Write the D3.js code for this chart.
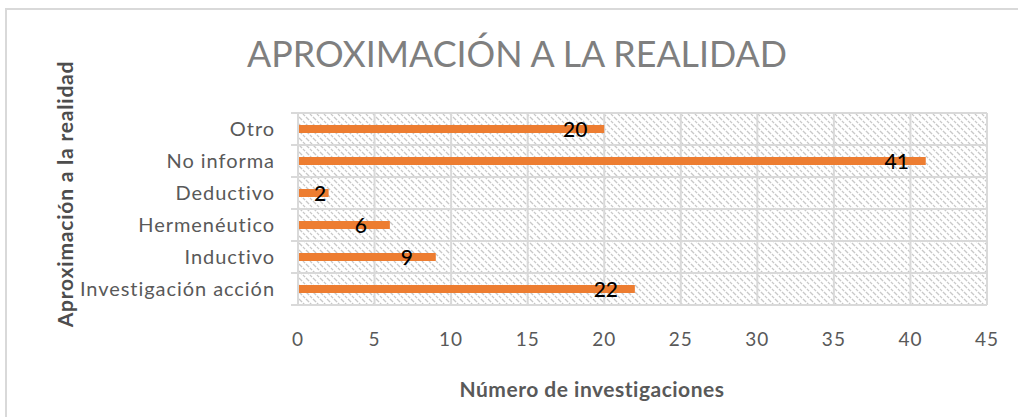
<!DOCTYPE html>
<html>
<head>
<meta charset="utf-8">
<script src="https://cdn.jsdelivr.net/npm/d3@7"></script>
<style>
    body { margin: 0; background: #fff; }
    text { font-family: Lato, "Open Sans", sans-serif; }
</style>
</head>
<body>
<script>
// chart values
var categories = ["Otro", "No informa", "Deductivo", "Hermenéutico", "Inductivo", "Investigación acción"];
var counts = [20, 41, 2, 6, 9, 22];
var xTicks = [0, 5, 10, 15, 20, 25, 30, 35, 40, 45];

// frame and plot area
var width = 1018,
    height = 417,
    plot = { left: 298, right: 987, top: 113, bottom: 305 };

var svg = d3.select("body")
    .append("svg")
    .attr("width", width)
    .attr("height", height);

// hatched fill of the plot area
var pattern = svg.append("defs")
    .append("pattern")
    .attr("id", "hatch")
    .attr("patternUnits", "userSpaceOnUse")
    .attr("width", 7)
    .attr("height", 7);
pattern.append("path")
    .attr("d", "M-1,-1 L8,8 M-1,6 L1,8 M6,-1 L8,1")
    .attr("stroke", "#c8c8c8")
    .attr("stroke-width", 1.3)
    .attr("stroke-dasharray", "3,1.2");

// outer chart border (only top and left visible)
svg.append("rect")
    .attr("x", 6)
    .attr("y", 9)
    .attr("width", width)
    .attr("height", height)
    .attr("fill", "none")
    .attr("stroke", "#d9d9d9")
    .attr("stroke-width", 2);

var x = d3.scaleLinear()
    .domain([0, 45])
    .range([plot.left, plot.right]);

var y = d3.scaleBand()
    .domain(categories)
    .range([plot.top, plot.bottom])
    .paddingInner(0.75)
    .paddingOuter(0.375);

var band = d3.scaleBand()
    .domain(categories)
    .range([plot.top, plot.bottom]);

svg.append("rect")
    .attr("x", plot.left)
    .attr("y", plot.top)
    .attr("width", plot.right - plot.left)
    .attr("height", plot.bottom - plot.top)
    .attr("fill", "url(#hatch)");

// vertical gridlines
svg.append("g")
    .selectAll("line")
    .data(xTicks)
    .enter()
    .append("line")
    .attr("x1", function(d) { return x(d); })
    .attr("x2", function(d) { return x(d); })
    .attr("y1", plot.top)
    .attr("y2", plot.bottom)
    .attr("stroke", "#d9d9d9")
    .attr("stroke-width", 2);

// horizontal gridlines at category boundaries, with small ticks on the left
var bounds = categories.map(function(c) { return band(c); }).concat([plot.bottom]);
svg.append("g")
    .selectAll("line")
    .data(bounds)
    .enter()
    .append("line")
    .attr("x1", plot.left - 7)
    .attr("x2", plot.right)
    .attr("y1", function(d) { return d; })
    .attr("y2", function(d) { return d; })
    .attr("stroke", "#d9d9d9")
    .attr("stroke-width", 2);

// bars
svg.append("g")
    .selectAll("rect")
    .data(counts)
    .enter()
    .append("rect")
    .attr("x", x(0) + 1)
    .attr("y", function(d, i) { return y(categories[i]); })
    .attr("width", function(d) { return x(d) - x(0) - 1; })
    .attr("height", y.bandwidth())
    .attr("fill", "#ed7d31");

// data labels near the bar ends
svg.append("g")
    .selectAll("text")
    .data(counts)
    .enter()
    .append("text")
    .attr("x", function(d) { return Math.max(x(d) - 29, x(0) + 22); })
    .attr("y", function(d, i) { return band(categories[i]) + band.bandwidth() / 2 + 8; })
    .attr("text-anchor", "middle")
    .attr("font-size", 21)
    .attr("font-weight", 500)
    .attr("fill", "#000")
    .text(function(d) { return d; });

// category labels
svg.append("g")
    .selectAll("text")
    .data(categories)
    .enter()
    .append("text")
    .attr("x", 275)
    .attr("y", function(d) { return band(d) + band.bandwidth() / 2 + 7; })
    .attr("text-anchor", "end")
    .attr("font-size", 20)
    .attr("letter-spacing", 0.95)
    .attr("fill", "#595959")
    .text(function(d) { return d; });

// x tick labels
svg.append("g")
    .selectAll("text")
    .data(xTicks)
    .enter()
    .append("text")
    .attr("x", function(d) { return x(d); })
    .attr("y", 346)
    .attr("text-anchor", "middle")
    .attr("font-size", 19)
    .attr("letter-spacing", 1)
    .attr("fill", "#595959")
    .text(function(d) { return d; });

// title
svg.append("text")
    .attr("x", 517)
    .attr("y", 67)
    .attr("text-anchor", "middle")
    .attr("font-size", 37)
    .attr("font-weight", 400)
    .attr("textLength", 540)
    .attr("lengthAdjust", "spacingAndGlyphs")
    .attr("fill", "#7f7f7f")
    .text("APROXIMACIÓN A LA REALIDAD");

// axis titles
svg.append("text")
    .attr("x", 592)
    .attr("y", 397)
    .attr("text-anchor", "middle")
    .attr("font-size", 21)
    .attr("font-weight", 700)
    .attr("letter-spacing", 0.5)
    .attr("fill", "#595959")
    .text("Número de investigaciones");

svg.append("text")
    .attr("transform", "translate(73,194) rotate(-90)")
    .attr("text-anchor", "middle")
    .attr("font-size", 21)
    .attr("font-weight", 700)
    .attr("letter-spacing", 0.8)
    .attr("fill", "#4d4d4d")
    .text("Aproximación a la realidad");
</script>
</body>
</html>
